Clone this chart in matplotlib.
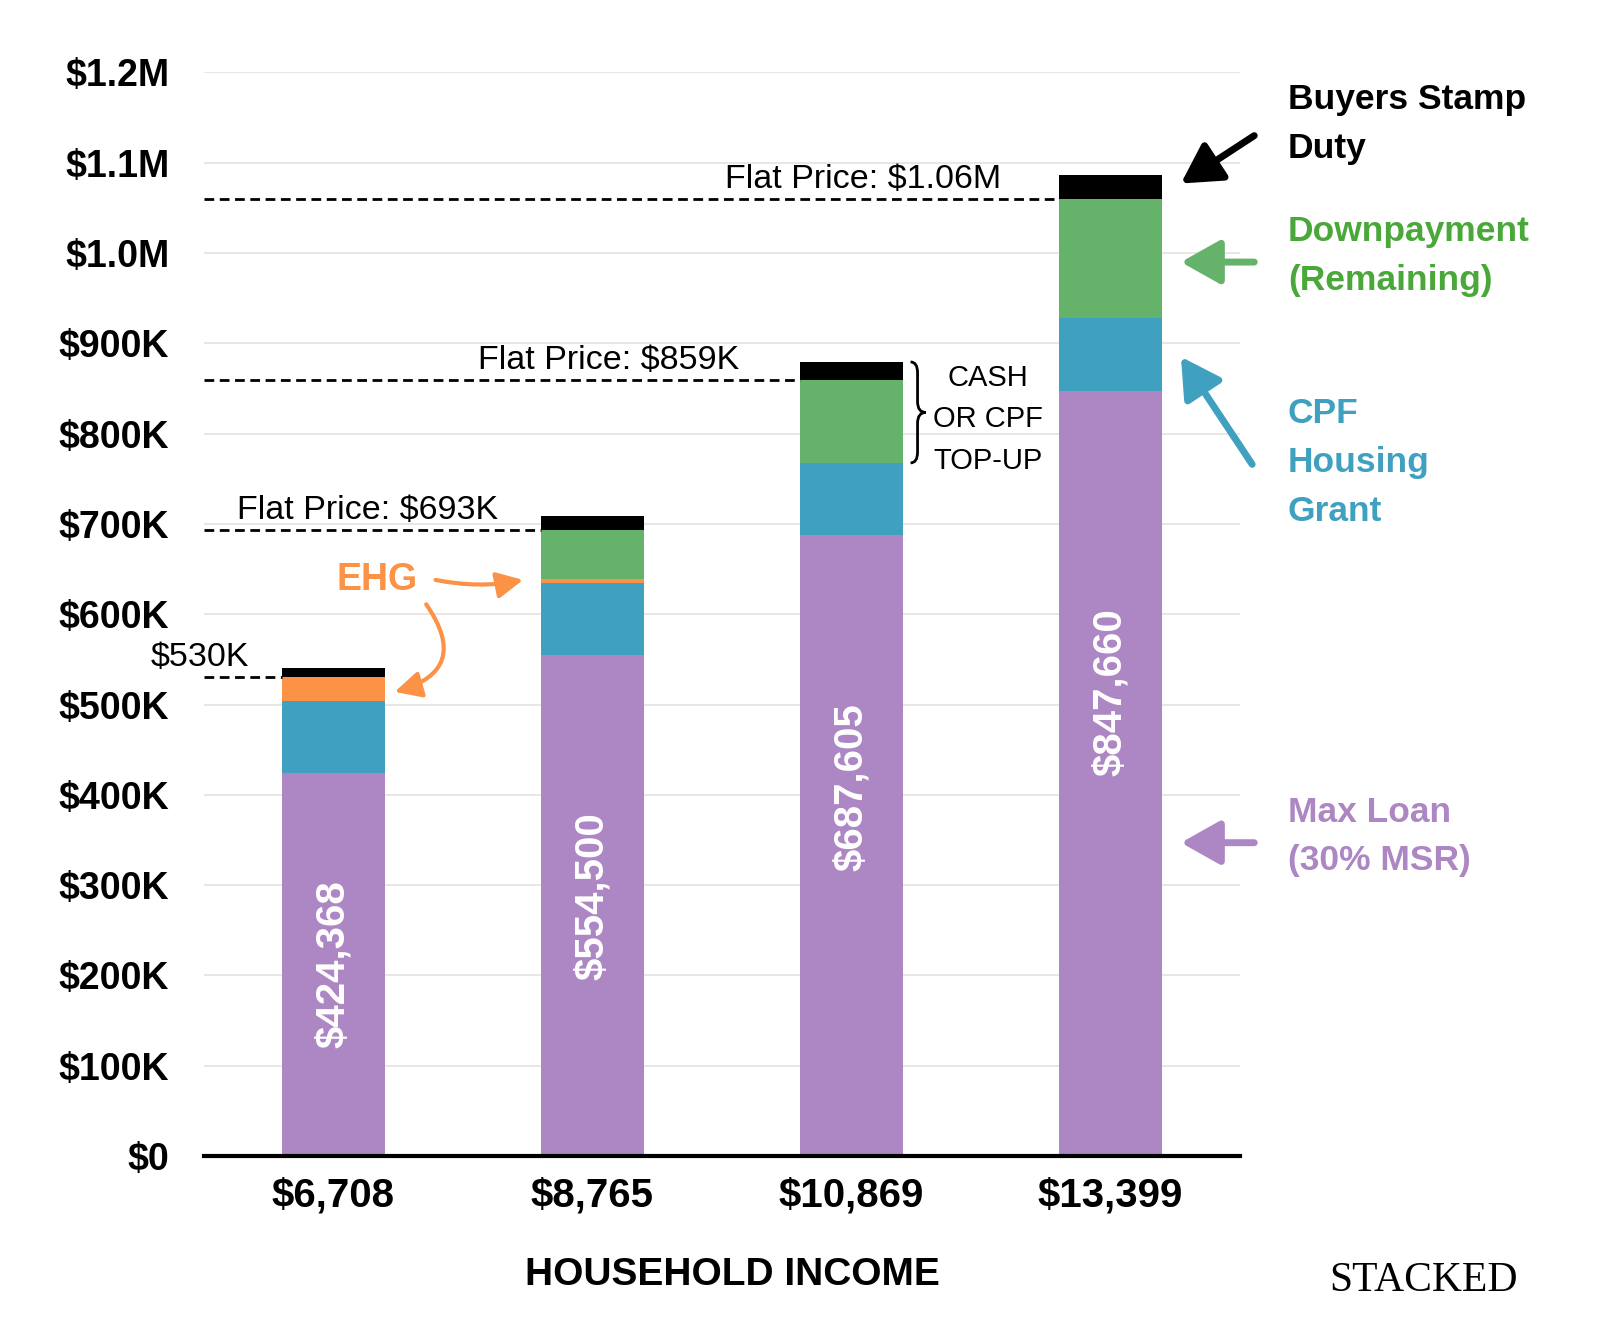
import matplotlib
matplotlib.use("Agg")
import matplotlib.pyplot as plt
from matplotlib.path import Path
from matplotlib.patches import PathPatch

plt.rcParams['font.family'] = ['Liberation Sans', 'DejaVu Sans']

# data
incomes = ['$6,708', '$8,765', '$10,869', '$13,399']
max_loan = [424368, 554500, 687605, 847660]
cpf_grant = [80000, 80000, 80000, 80000]
ehg = [25632, 5000, 0, 0]
downpayment = [0, 53500, 91395, 132340]
bsd = [10500, 15390, 20370, 26200]
flat_prices = [530000, 693000, 859000, 1060000]
price_labels = ['$530K', 'Flat Price: $693K', 'Flat Price: $859K', 'Flat Price: $1.06M']
loan_labels = ['$424,368', '$554,500', '$687,605', '$847,660']
y_ticks = [0, 100000, 200000, 300000, 400000, 500000, 600000,
           700000, 800000, 900000, 1000000, 1100000, 1200000]
y_tick_labels = ['$0', '$100K', '$200K', '$300K', '$400K', '$500K', '$600K',
                 '$700K', '$800K', '$900K', '$1.0M', '$1.1M', '$1.2M']

PURPLE = '#ad87c4'
BLUE = '#3fa0c0'
GREEN = '#65b26b'
ORANGE = '#fb9245'
GREEN_TXT = '#4aa83a'

fig = plt.figure(figsize=(16, 13.34), dpi=100)
ax = fig.add_axes([0.1275, 0.1334, 0.6475, 0.8123])

x = list(range(len(incomes)))
w = 0.4
bottom = [0] * 4
for vals, col in [(max_loan, PURPLE), (cpf_grant, BLUE), (ehg, ORANGE),
                  (downpayment, GREEN), (bsd, 'black')]:
    ax.bar(x, vals, w, bottom=bottom, color=col, zorder=3)
    bottom = [b + v for b, v in zip(bottom, vals)]

ax.set_xlim(-0.5, 3.5)
ax.set_ylim(0, 1200000)
for s in ['top', 'right', 'left']:
    ax.spines[s].set_visible(False)
ax.spines['bottom'].set_linewidth(3)
ax.spines['bottom'].set_zorder(5)
ax.yaxis.grid(True, color='#e8e4df', lw=1.3)
ax.set_axisbelow(True)

ax.set_yticks(y_ticks)
ax.set_yticklabels(y_tick_labels, fontsize=27, fontweight='bold')
ax.set_xticks(x)
ax.set_xticklabels(incomes, fontsize=29, fontweight='bold')
ax.tick_params(axis='y', length=0, pad=25)
ax.tick_params(axis='x', length=0, pad=15)

# loan values inside the bars
label_y = [212000, 288000, 408000, 514000]
for i in x:
    ax.text(i, label_y[i], loan_labels[i], rotation=90, ha='center', va='center',
            color='white', fontsize=29, fontweight='bold', zorder=6)

# flat price dashed lines
price_x = [-0.516, 0.13, 1.061, 2.043]
for i in x:
    ax.plot([-0.5, i - w / 2], [flat_prices[i]] * 2, color='black', lw=2,
            ls=(0, (3.5, 2)), zorder=4, clip_on=False)
    ax.annotate(price_labels[i], (price_x[i], flat_prices[i]), xytext=(0, 3),
                textcoords='offset points', ha='center', va='bottom',
                fontsize=24.5, annotation_clip=False)

# brace + cash or cpf top-up
top3 = bottom[2]
low3 = max_loan[2] + cpf_grant[2]
mid3 = (top3 + low3) / 2
x0, x1, x2 = 2.228, 2.255, 2.287
d = 12000
verts = [(x0, top3), (x1, top3), (x1, top3 - d),
         (x1, mid3 + d),
         (x1, mid3), (x2, mid3), (x1, mid3), (x1, mid3 - d),
         (x1, low3 + d),
         (x1, low3), (x0, low3)]
codes = [Path.MOVETO, Path.CURVE3, Path.CURVE3, Path.LINETO,
         Path.CURVE3, Path.CURVE3, Path.CURVE3, Path.CURVE3,
         Path.LINETO, Path.CURVE3, Path.CURVE3]
ax.add_patch(PathPatch(Path(verts, codes), fill=False, lw=2, color='black',
                       clip_on=False))
ax.text(2.528, 816000, 'CASH\nOR CPF\nTOP-UP', ha='center', va='center',
        fontsize=21, linespacing=1.62)

# EHG
ax.text(0.17, 638000, 'EHG', color=ORANGE, fontsize=27, fontweight='bold',
        ha='center', va='center')
hs = '-|>,head_length=0.8,head_width=0.4'
ax.annotate('', xy=(0.732, 638000), xytext=(0.394, 638000),
            arrowprops=dict(arrowstyle=hs, lw=3, color=ORANGE, mutation_scale=20,
                            connectionstyle='arc3,rad=0.1', shrinkA=0, shrinkB=0))
ax.annotate('', xy=(0.236, 514000), xytext=(0.358, 611000),
            arrowprops=dict(arrowstyle=hs, lw=3, color=ORANGE, mutation_scale=20,
                            connectionstyle='arc3,rad=-0.7', shrinkA=0, shrinkB=0))

# right side legend arrows
hs2 = '-|>,head_length=0.8,head_width=0.45'
arrows = [((3.555, 1130000), (3.272, 1077000), 'black'),
          ((3.555, 990000), (3.272, 990000), GREEN),
          ((3.547, 766000), (3.272, 885000), BLUE),
          ((3.555, 347000), (3.272, 347000), PURPLE)]
for tail, tip, col in arrows:
    ax.annotate('', xy=tip, xytext=tail, annotation_clip=False,
                arrowprops=dict(arrowstyle=hs2, lw=5, color=col, mutation_scale=30,
                                shrinkA=0, shrinkB=0))

right_labels = [('Buyers Stamp\nDuty', 1143000, 'black'),
                ('Downpayment\n(Remaining)', 997000, GREEN_TXT),
                ('CPF\nHousing\nGrant', 768000, BLUE),
                ('Max Loan\n(30% MSR)', 354000, PURPLE)]
for txt, yy, col in right_labels:
    ax.text(3.685, yy, txt, color=col, fontsize=25.5, fontweight='bold',
            ha='left', va='center', linespacing=1.6, clip_on=False)

fig.text(0.4575, 0.044, 'HOUSEHOLD INCOME', ha='center', va='center',
         fontsize=28, fontweight='bold')
fig.text(0.89, 0.04, 'STACKED', ha='center', va='center', fontsize=30,
         family=['Liberation Serif', 'DejaVu Serif'])

fig.savefig('out.png', dpi=100, facecolor='white')
